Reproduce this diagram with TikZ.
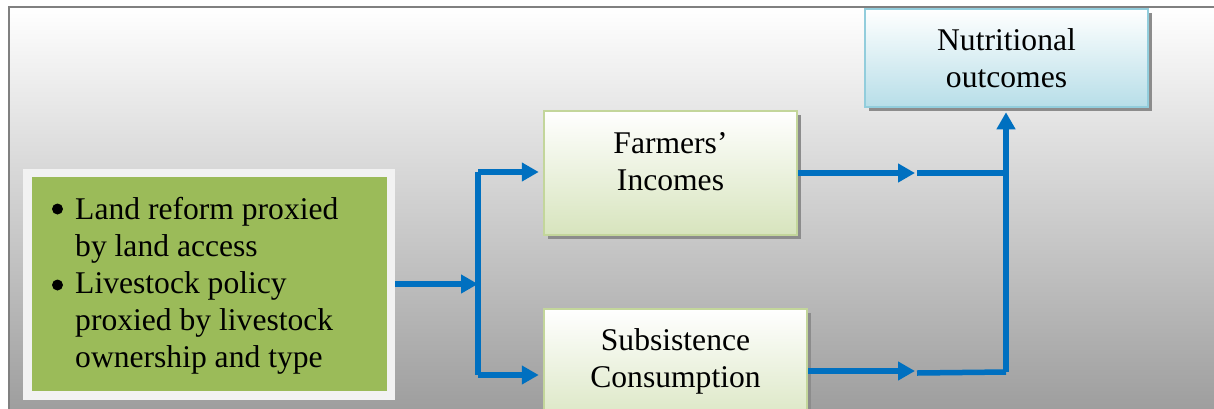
\documentclass[tikz,border=0pt]{standalone}
\usepackage{fontspec}
\setmainfont{Liberation Serif}
\usetikzlibrary{arrows.meta,shadows,calc}
\definecolor{arrowblue}{HTML}{0070C0}
\definecolor{policygreen}{HTML}{9BBB59}
\definecolor{lightgreen}{HTML}{D7E4BD}
\definecolor{greenborder}{HTML}{C3D69B}
\definecolor{lightblue}{HTML}{B7DEE8}
\definecolor{blueborder}{HTML}{92CDDC}
\tikzset{
  txt/.style={font=\fontsize{31.6pt}{37pt}\selectfont, align=center},
  shadowed/.style={drop shadow={shadow xshift=4pt, shadow yshift=-4pt, fill=black!45, opacity=1}},
  policybox/.style={shadowed, draw=black!5, line width=8.5pt, fill=policygreen, inner sep=0pt},
  greenbox/.style={shadowed, draw=greenborder, line width=2.5pt, top color=white, bottom color=lightgreen, inner sep=0pt},
  bluebox/.style={shadowed, draw=blueborder, line width=2.5pt, top color=white, bottom color=lightblue, inner sep=0pt, txt},
  bulletdot/.style={circle, fill=black, minimum size=11pt, inner sep=0pt},
  flow/.style={draw=arrowblue, line width=5.5pt},
  flowarrow/.style={flow, -{Triangle[length=17pt,width=18pt]}},
}
\begin{document}
\begin{tikzpicture}[x=1pt,y=-1pt]
\useasboundingbox (0,0) rectangle (1214,408);
\clip (0,0) rectangle (1214,408);
% background frame
\path[top color=white, bottom color=black!40, draw=black!50, line width=2.5pt] (9,7) rectangle (1240,430);

% boxes
\node[policybox, minimum width=363.5pt, minimum height=222.5pt] (policy) at (209,284) {};
\node[txt, align=left, anchor=west, inner sep=0pt] (policytext) at (75,286) {%
Land reform proxied\\
by land access\\
Livestock policy\\
proxied by livestock\\
ownership and type};
\node[bulletdot] (bullet1) at (57.5,209) {};
\node[bulletdot] (bullet2) at (57.5,285) {};

\node[greenbox, minimum width=253pt, minimum height=124pt] (incomes) at (670.5,173) {};
\node[txt, inner sep=0pt] (incomestext) at ($(incomes.center)+(0,-11)$) {Farmers’\\Incomes};

\node[greenbox, minimum width=263pt, minimum height=124pt] (subsist) at (675.5,371) {};
\node[txt, inner sep=0pt] (subsisttext) at ($(subsist.center)+(0,-10)$) {Subsistence\\Consumption};

\node[bluebox, minimum width=283pt, minimum height=98pt] (nutrition) at (1006.5,58) {Nutritional\\outcomes};

% junction coordinates
\coordinate (j1) at (478,284);
\coordinate (jtop) at (478,172);
\coordinate (jbot) at (478,375);
\coordinate (m1) at (915,173);
\coordinate (m1b) at (917,173);
\coordinate (m2) at (915,371);
\coordinate (m2b) at (917,373);
\coordinate (r1) at (1006,173);
\coordinate (r2) at (1006,372);

% connectors
\draw[flowarrow] (policy.east |- j1) -- (j1);
\draw[flow] (jtop) -- (jbot);
\draw[flowarrow, shorten >=4pt] (jtop) -- (incomes.west |- jtop);
\draw[flowarrow, shorten >=4pt] (jbot) -- (subsist.west |- jbot);

\draw[flowarrow] (incomes.east) -- (m1);
\draw[flow] (m1b) -- (r1);
\draw[flowarrow] (subsist.east |- m2) -- (m2);
\draw[flow] (m2b) -- (r2);
\draw[flowarrow, shorten >=4pt] (r2) -- (nutrition.south -| r2);
\end{tikzpicture}
\end{document}
